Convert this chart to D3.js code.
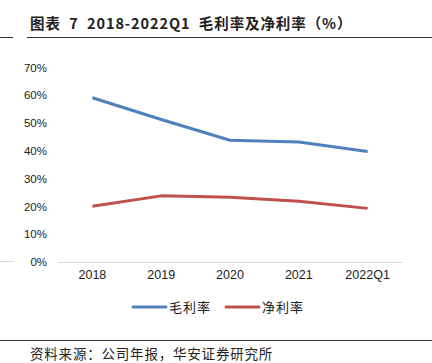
<!DOCTYPE html>
<meta charset="utf-8">
<style>
  body { margin: 0; background: #fff; }
  text { font-family: "Liberation Sans", Arial, sans-serif; }
  .cjk { font-family: "Noto Sans CJK SC", sans-serif; }
</style>
<body>
<div id="chart"></div>
<script src="https://d3js.org/d3.v7.min.js"></script>
<script>
  const years = ['2018', '2019', '2020', '2021', '2022Q1'];
  const grossMargin = [59.1, 51.3, 43.8, 43.2, 39.8];
  const netMargin = [20.1, 23.8, 23.3, 21.9, 19.3];
  const yTicks = [0, 10, 20, 30, 40, 50, 60, 70];
  const seriesNames = ['毛利率', '净利率'];
  const colors = ['#4F81BD', '#C0504D'];

  const width = 432, height = 363;
  const svg = d3.select('#chart').append('svg')
      .attr('width', width)
      .attr('height', height);

  // 标题
  svg.append('text').attr('class', 'cjk')
      .attr('x', 30).attr('y', 29)
      .attr('font-size', 14.5).attr('font-weight', 'bold').attr('fill', '#222')
      .attr('letter-spacing', 0.9)
      .style('white-space', 'pre')
      .text('图表  7  2018-2022Q1  毛利率及净利率（%）');
  svg.append('line').attr('x1', 0).attr('x2', 13).attr('y1', 37.5).attr('y2', 37.5)
      .attr('stroke', '#333');
  svg.append('line').attr('x1', 27).attr('x2', width).attr('y1', 37.5).attr('y2', 37.5)
      .attr('stroke', '#333');

  const x = d3.scaleBand().domain(years).range([58, 402]);
  const y = d3.scaleLinear().domain([0, 70]).range([262, 67.5]);

  // 左侧残线
  svg.append('line').attr('x1', 0).attr('x2', 14).attr('y1', 261.5).attr('y2', 261.5)
      .attr('stroke', '#d9d9d9');

  // y 轴
  const yAxis = svg.append('g')
      .attr('transform', 'translate(47,0)')
      .call(d3.axisLeft(y).tickValues(yTicks).tickFormat(d => d + '%').tickSize(0).tickPadding(0));
  yAxis.select('.domain').remove();
  yAxis.selectAll('text').attr('font-size', 11.5).attr('fill', '#222')
      .attr('font-family', '"Liberation Sans", Arial, sans-serif');

  // x 轴
  const xAxis = svg.append('g')
      .attr('transform', 'translate(0,262)')
      .call(d3.axisBottom(x).tickSize(0).tickPadding(8));
  xAxis.select('.domain').attr('stroke', '#d9d9d9');
  xAxis.selectAll('text').attr('font-size', 12.5).attr('fill', '#222')
      .attr('font-family', '"Liberation Sans", Arial, sans-serif');

  // 折线
  const line = d3.line()
      .x((d, i) => x(years[i]) + x.bandwidth() / 2)
      .y(d => y(d));
  [grossMargin, netMargin].forEach((s, i) => {
    svg.append('path').datum(s)
        .attr('fill', 'none')
        .attr('stroke', colors[i])
        .attr('stroke-width', 3)
        .attr('stroke-linejoin', 'round')
        .attr('d', line);
  });

  // 图例
  const legendX = [133, 226];
  seriesNames.forEach((name, i) => {
    const g = svg.append('g').attr('transform', `translate(${legendX[i]},307)`);
    g.append('line').attr('x1', 0).attr('x2', 33).attr('y1', 0).attr('y2', 0)
        .attr('stroke', colors[i]).attr('stroke-width', 3).attr('stroke-linecap', 'round');
    g.append('text').attr('class', 'cjk')
        .attr('x', 36).attr('y', 4.5)
        .attr('font-size', 13).attr('fill', '#222')
        .attr('letter-spacing', 1)
        .text(name);
  });

  // 底部
  svg.append('line').attr('x1', 0).attr('x2', width).attr('y1', 340.5).attr('y2', 340.5)
      .attr('stroke', '#333');
  svg.append('text').attr('class', 'cjk')
      .attr('x', 30).attr('y', 359)
      .attr('font-size', 13.5).attr('fill', '#222')
      .attr('letter-spacing', 0.8)
      .text('资料来源：公司年报，华安证券研究所');
</script>
